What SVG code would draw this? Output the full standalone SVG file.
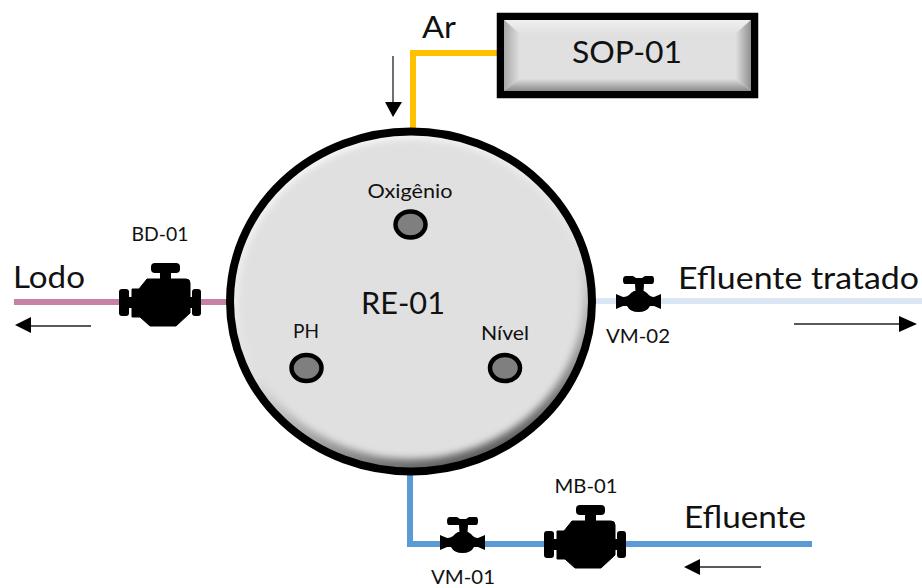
<svg xmlns="http://www.w3.org/2000/svg" width="922" height="588" viewBox="0 0 922 588">
<style>
text{font-family:Lato,"Open Sans","Liberation Sans",sans-serif;fill:#111}
.big{font-size:31px}
.small{font-size:19px}
.pipe{fill:none;stroke-width:6}
.arr{stroke:#222;stroke-width:1.3;fill:none}
.ah{fill:#000}
.probe{fill:#7f7f7f;stroke:#000;stroke-width:4.500}
</style>
<defs>
<filter id="soft" x="-10%" y="-10%" width="120%" height="120%"><feGaussianBlur stdDeviation="3.500"/></filter>
<linearGradient id="rim" x1=".3" y1="0" x2=".7" y2="1">
<stop offset="0" stop-color="#fafafa"/><stop offset=".55" stop-color="#e0e0e0"/><stop offset=".82" stop-color="#8f8f8f"/><stop offset="1" stop-color="#505050"/>
</linearGradient>
<linearGradient id="bevT" x1="0" y1="0" x2="0" y2="1"><stop offset="0" stop-color="#f0f0f0"/><stop offset="1" stop-color="#e2e2e2"/></linearGradient>
<linearGradient id="bevB" x1="0" y1="0" x2="0" y2="1"><stop offset="0" stop-color="#dedede"/><stop offset="1" stop-color="#8a8a8a"/></linearGradient>
<linearGradient id="bevL" x1="0" y1="0" x2="1" y2="0"><stop offset="0" stop-color="#a8a8a8"/><stop offset="1" stop-color="#dcdcdc"/></linearGradient>
<linearGradient id="bevR" x1="0" y1="0" x2="1" y2="0"><stop offset="0" stop-color="#dedede"/><stop offset="1" stop-color="#909090"/></linearGradient>
<g id="engine">
<rect x="151" y="263" width="29" height="10" rx="4"/>
<rect x="160" y="270" width="11" height="10"/>
<path d="M147 279H186Q190 279 190 283V313L176 326H150L140 317H132V289H139Z" stroke="#000" stroke-width="1" stroke-linejoin="round"/>
<rect x="119" y="289" width="10" height="27" rx="3"/>
<rect x="192" y="289" width="9" height="27" rx="3"/>
<rect x="127" y="297" width="6" height="11"/>
<rect x="189" y="297" width="5" height="11"/>
</g>
<g id="valve">
<path d="M450 517H457L460 519H466L469 517H476Q478 517 478 521Q478 525 476 525H468L467.500 533H459.500L459 525H449Q447 525 447 521Q447 517 450 517Z"/>
<path d="M440 535L447 538Q452 538 455 534L458 532H468L471 534Q474 538 478 538L485 535V550L478 547H474Q471 553 462.500 553Q454 553 451 547H447L440 550Z"/>
</g>
</defs>
<g id="connectors">
<path class="pipe" d="M497 53H413V130" stroke="#ffc000"/>
<path class="pipe" d="M14 302H228" stroke="#c27ba0" stroke-opacity=".95"/>
<path class="pipe" d="M594 301H922" stroke="#dae6f3"/>
<path class="pipe" d="M410 472V544H812" stroke="#5b9bd5"/>
<path class="arr" d="M393 56V104"/><path class="ah" d="M385 102H402L393 117Z"/>
<path class="arr" d="M91 326H28"/><path class="ah" d="M31 317V333L15 325Z"/>
<path class="arr" d="M794 324H902"/><path class="ah" d="M899 316V332L917 324Z"/>
<path class="arr" d="M761 567H698"/><path class="ah" d="M700 559V575L684 567Z"/>
</g>
<g id="RE-01">
<ellipse cx="411" cy="301.500" rx="181" ry="170" fill="url(#rim)"/>
<ellipse cx="411" cy="299" rx="172" ry="160" fill="#e0e0e0" filter="url(#soft)"/>
<ellipse cx="411" cy="301.500" rx="181" ry="170" fill="none" stroke="#000" stroke-width="8"/>
<text class="big" x="403" y="314" text-anchor="middle" textLength="84" lengthAdjust="spacingAndGlyphs">RE-01</text>
</g>
<g id="probe-oxigenio"><ellipse class="probe" cx="410.500" cy="224.500" rx="15" ry="13"/><text class="small" x="410" y="198" text-anchor="middle" textLength="85" lengthAdjust="spacingAndGlyphs">Oxigênio</text></g>
<g id="probe-ph"><ellipse class="probe" cx="306.500" cy="368" rx="15" ry="13"/><text class="small" x="306" y="338" text-anchor="middle" textLength="26" lengthAdjust="spacingAndGlyphs">PH</text></g>
<g id="probe-nivel"><ellipse class="probe" cx="505" cy="368" rx="15" ry="13"/><text class="small" x="505" y="340" text-anchor="middle" textLength="48" lengthAdjust="spacingAndGlyphs">Nível</text></g>
<g id="SOP-01">
<rect x="500.500" y="16.500" width="254" height="78" fill="#e0e0e0" stroke="#000" stroke-width="7.500"/>
<path d="M504 20H751L736 33H519Z" fill="url(#bevT)"/>
<path d="M504 91H751L736 79H519Z" fill="url(#bevB)"/>
<path d="M504 20V91L519 79V33Z" fill="url(#bevL)"/>
<path d="M751 20V91L736 79V33Z" fill="url(#bevR)"/>
<text class="big" x="627" y="63" text-anchor="middle" textLength="110" lengthAdjust="spacingAndGlyphs">SOP-01</text>
</g>
<g id="BD-01"><use href="#engine"/><text class="small" x="160" y="241" text-anchor="middle" textLength="57" lengthAdjust="spacingAndGlyphs">BD-01</text></g>
<g id="MB-01"><use href="#engine" x="425" y="242"/><text class="small" x="586" y="493" text-anchor="middle" textLength="63" lengthAdjust="spacingAndGlyphs">MB-01</text></g>
<g id="VM-01"><use href="#valve"/><text class="small" x="463" y="584" text-anchor="middle" textLength="64" lengthAdjust="spacingAndGlyphs">VM-01</text></g>
<g id="VM-02"><use href="#valve" x="176" y="-241"/><text class="small" x="638" y="343" text-anchor="middle" textLength="64" lengthAdjust="spacingAndGlyphs">VM-02</text></g>
<g id="labels">
<text class="big" x="422" y="38" textLength="34" lengthAdjust="spacingAndGlyphs">Ar</text>
<text class="big" x="13" y="288" textLength="72" lengthAdjust="spacingAndGlyphs">Lodo</text>
<text class="big" x="678" y="289" textLength="241" lengthAdjust="spacingAndGlyphs">Efluente tratado</text>
<text class="big" x="684" y="528" textLength="122" lengthAdjust="spacingAndGlyphs">Efluente</text>
</g>
</svg>
